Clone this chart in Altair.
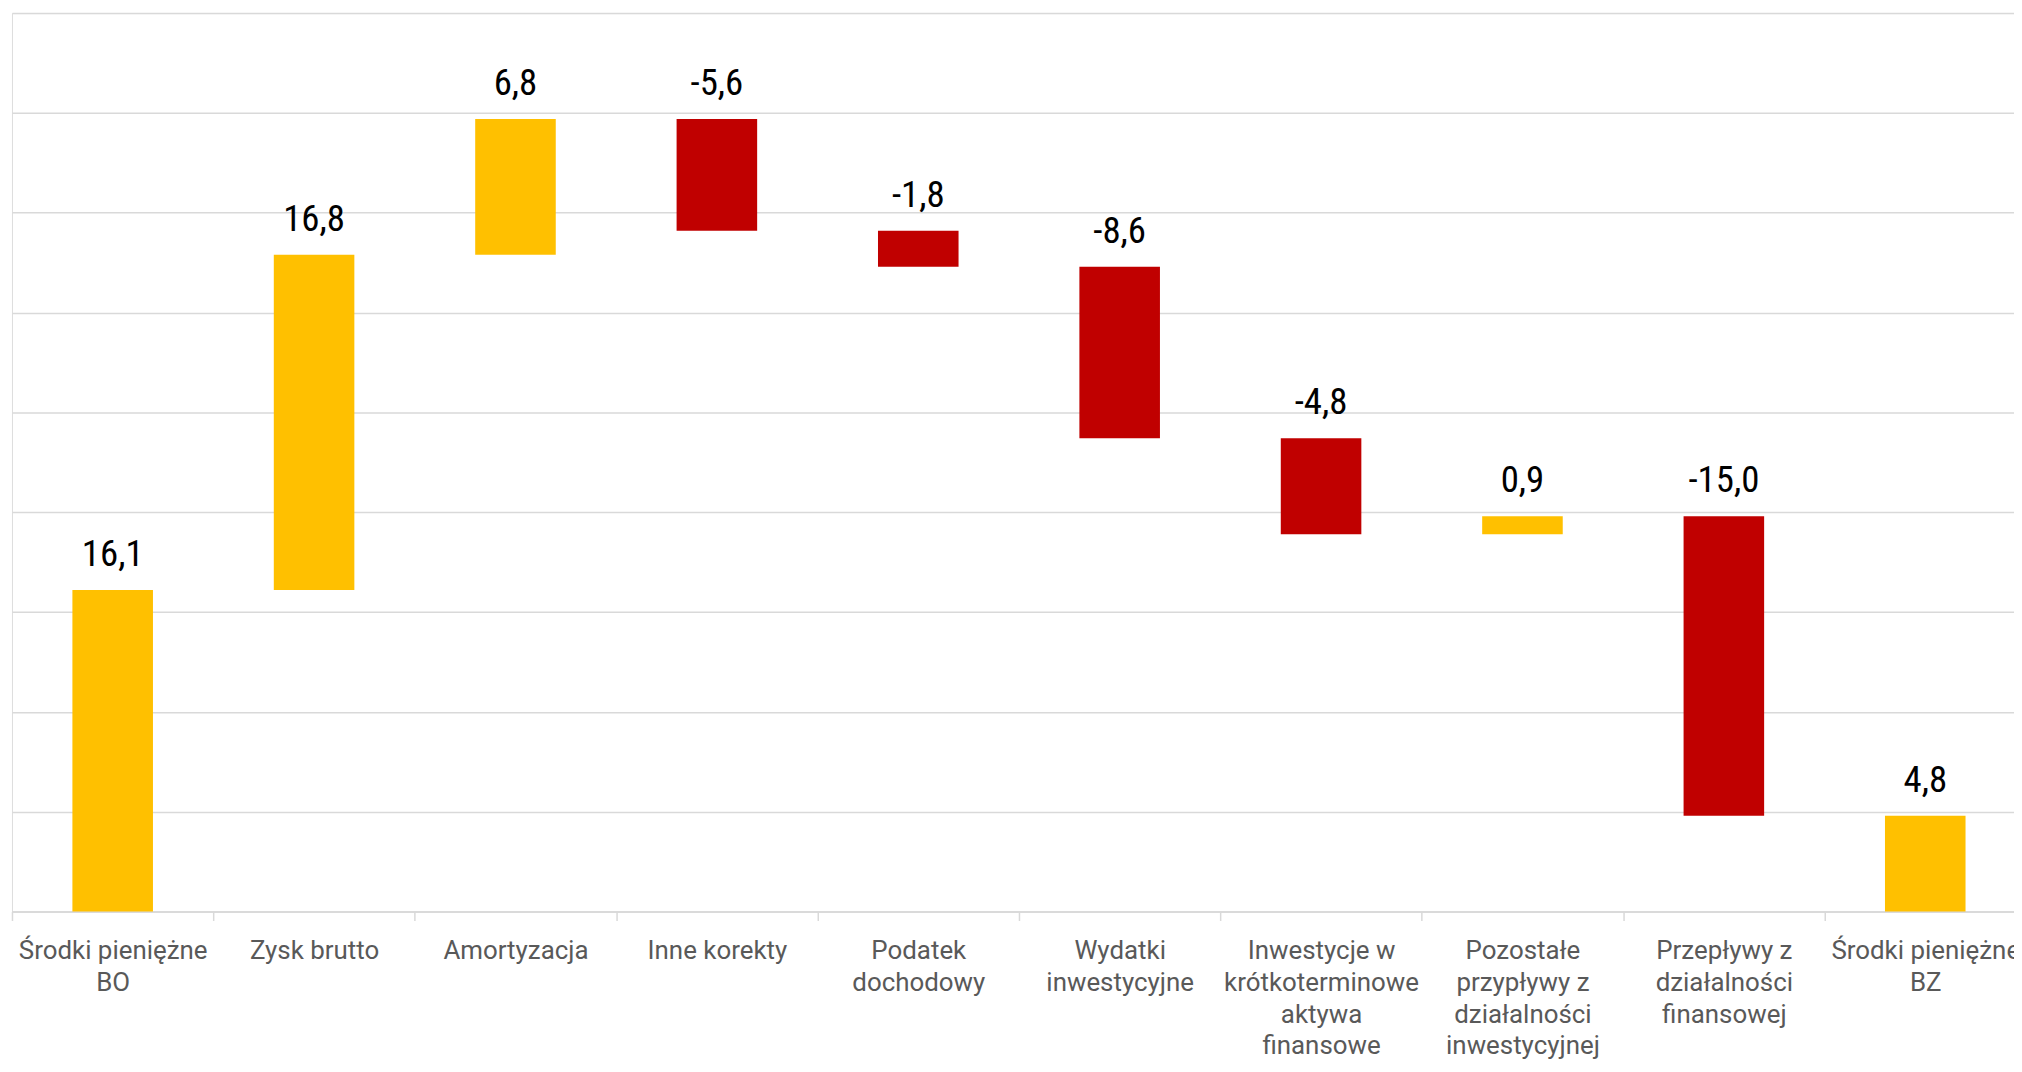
import altair as alt
import pandas as pd

categories = [
    "Środki pieniężne|BO",
    "Zysk brutto",
    "Amortyzacja",
    "Inne korekty",
    "Podatek|dochodowy",
    "Wydatki|inwestycyjne",
    "Inwestycje w|krótkoterminowe|aktywa|finansowe",
    "Pozostałe|przypływy z|działalności|inwestycyjnej",
    "Przepływy z|działalności|finansowej",
    "Środki pieniężne|BZ",
]
values = [16.1, 16.8, 6.8, -5.6, -1.8, -8.6, -4.8, 0.9, -15.0, 4.8]
is_total = [True, False, False, False, False, False, False, False, False, True]
y_ticks = [0, 5, 10, 15, 20, 25, 30, 35, 40, 45]

rows = []
running = 0.0
for cat, v, tot in zip(categories, values, is_total):
    if tot:
        start, end = 0.0, v
        running = v
    else:
        start = running
        end = running + v
        running = end
    kind = "pos" if v >= 0 else "neg"
    rows.append({
        "cat": cat,
        "start": start,
        "end": end,
        "top": max(start, end),
        "kind": kind,
        "label": f"{v:.1f}".replace(".", ","),
    })
df = pd.DataFrame(rows)

x_scale = alt.Scale(paddingInner=0, paddingOuter=0, range=[0, 2022])

x_enc = alt.X(
    "cat:N",
    sort=categories,
    title=None,
    scale=x_scale,
    axis=alt.Axis(
        labelExpr="split(datum.label, '|')",
        labelAngle=0,
        labelFont="Roboto",
        labelFontSize=26,
        labelColor="#595959",
        labelLineHeight=32,
        labelPadding=17,
        labelLimit=0,
        labelOverlap=False,
        labelBound=False,
        labelFlush=False,
        tickBand="extent",
        tickSize=9,
        tickColor="#d9d9d9",
        tickWidth=1.5,
        domainColor="#d9d9d9",
        domainWidth=1.5,
        grid=False,
    ),
)

y_scale = alt.Scale(domain=[0, 45], nice=False)

bars = alt.Chart(df).mark_bar(width=alt.RelativeBandSize(0.4)).encode(
    x=x_enc,
    y=alt.Y(
        "start:Q",
        scale=y_scale,
        title=None,
        axis=alt.Axis(
            values=y_ticks,
            labels=False,
            ticks=False,
            domain=False,
            grid=True,
            gridColor="#d9d9d9",
            gridWidth=1.5,
        ),
    ),
    y2="end:Q",
    color=alt.Color(
        "kind:N",
        scale=alt.Scale(domain=["pos", "neg"], range=["#FFC000", "#C00000"]),
        legend=None,
    ),
)

texts = alt.Chart(df).mark_text(
    font="Liberation Sans Narrow, Roboto Condensed, DejaVu Sans Condensed, sans-serif",
    fontSize=37,
    color="#000000",
    baseline="alphabetic",
    align="center",
    dy=-24,
).encode(
    x=alt.X("cat:N", sort=categories, scale=x_scale),
    y=alt.Y("top:Q", scale=y_scale),
    text="label:N",
)

chart = (
    alt.layer(bars, texts)
    .properties(
        width=2010,
        height=902,
        padding={"left": 4, "top": 3, "right": 0, "bottom": 150},
        autosize=alt.AutoSizeParams(type="none"),
    )
    .configure_view(stroke=None)
    .configure(background="#ffffff")
)

chart.save("out.html", embed_options={"renderer": "svg", "actions": False})
